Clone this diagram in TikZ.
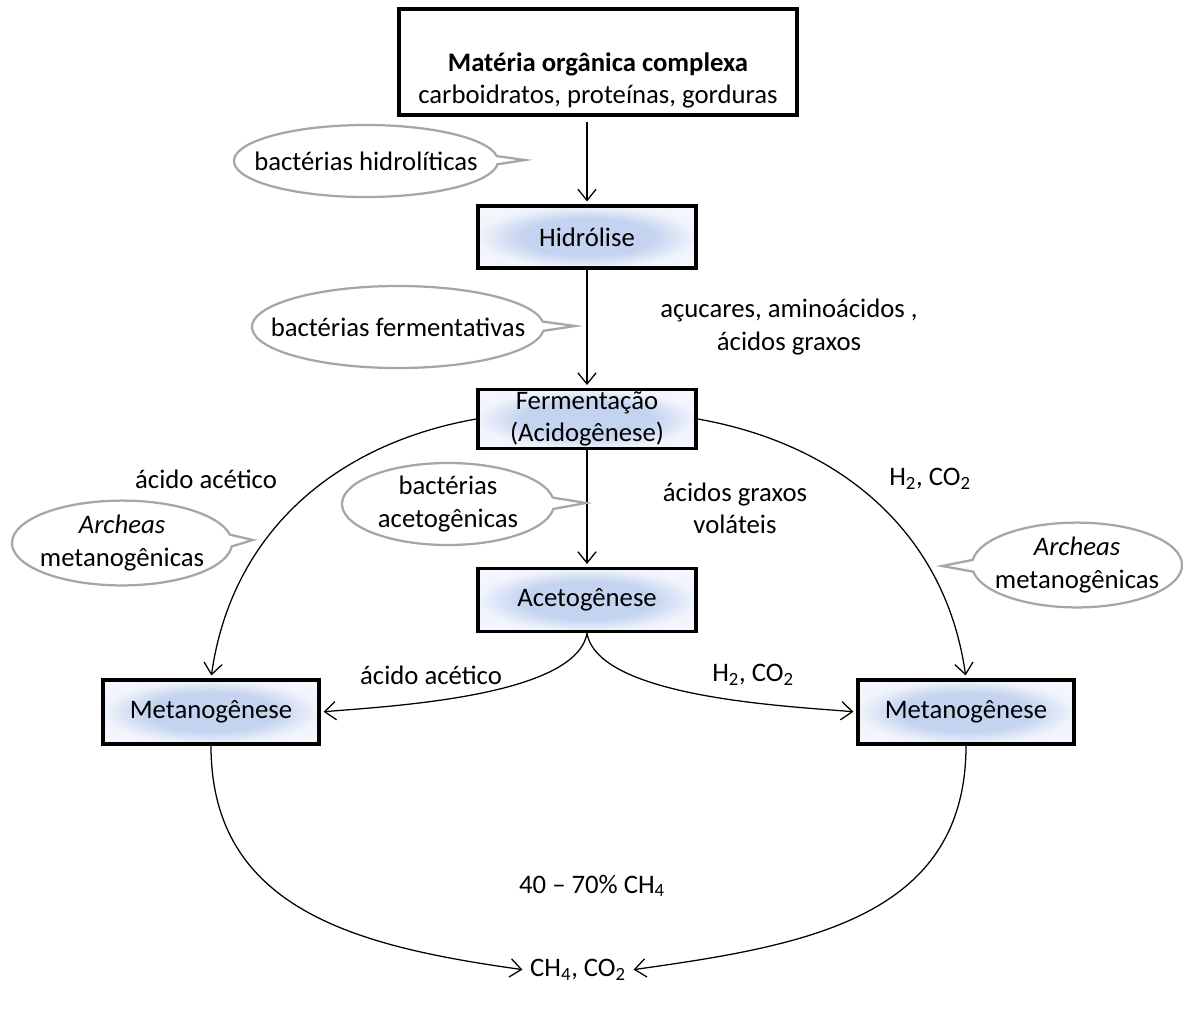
\documentclass[tikz,border=0pt]{standalone}
\usepackage{fontspec}
\setmainfont{Carlito}
\usetikzlibrary{arrows.meta,shapes.callouts}
\definecolor{azulclaro}{RGB}{196,211,240}
\definecolor{cinzabalao}{RGB}{166,166,166}
\pgfdeclareradialshading{brilho}{\pgfpoint{0bp}{0bp}}{color(0bp)=(azulclaro); color(15bp)=(azulclaro); color(25bp)=(white!75!azulclaro); color(50bp)=(white)}
\begin{document}
\begin{tikzpicture}[x=0.025cm,y=0.025cm,font=\fontsize{19}{22.8}\selectfont,>={Straight Barb[length=8pt,width=13pt]},
	etapa/.style={draw=black,line width=2.5pt,shading=brilho,minimum width=5.45cm,minimum height=1.55cm,inner sep=0pt,align=center},
	balao/.style={ellipse callout,draw=cinzabalao,line width=1.6pt,fill=white,inner sep=0pt,callout pointer arc=13},
	seta/.style={->,line width=0.9pt,shorten >=2pt},
	rotulo/.style={align=center}]
	\useasboundingbox (0,0) rectangle (1183,-1015);
	%%Caixas das etapas
	\node[draw=black,line width=2.5pt,minimum width=9.95cm,minimum height=2.65cm] (materia) at (598,-62) {};
	\node[rotulo] (materiatxt) at (598,-80) {\textbf{Matéria orgânica complexa}\\carboidratos, proteínas, gorduras};
	\node[etapa] (hidrolise) at (587,-237) {Hidrólise};
	\node[etapa,minimum height=1.47cm] (ferment) at (587,-419) {Fermentação\\(Acidogênese)};
	\node[etapa,minimum height=1.575cm] (acetog) at (587,-600) {Acetogênese};
	\node[etapa,minimum width=5.4cm,minimum height=1.6cm] (metanoesq) at (211,-712) {Metanogênese};
	\node[etapa,minimum width=5.4cm,minimum height=1.6cm] (metanodir) at (966,-712) {Metanogênese};
	\node (produto) at (578,-970) {CH\textsubscript{4}, CO\textsubscript{2}};
	%%Textos ao lado das setas
	\node[rotulo] (acucares) at (789,-327) {açucares, aminoácidos ,\\ácidos graxos};
	\node (acidoesq) at (206,-479) {ácido acético};
	\node (gasdir) at (930,-479) {H\textsubscript{2}, CO\textsubscript{2}};
	\node[rotulo] (agv) at (735,-508) {ácidos graxos\\voláteis};
	\node (acidomeio) at (431,-675) {ácido acético};
	\node (gasmeio) at (753,-675) {H\textsubscript{2}, CO\textsubscript{2}};
	\node (metano) at (592,-886) {40 – 70\% CH\textsubscript{4}};
	%%Setas
	\draw[seta,shorten <=4pt] (materia.south -| hidrolise.north) -- (hidrolise.north);
	\draw[seta] (hidrolise) -- (ferment);
	\draw[seta] (ferment) -- (acetog);
	\draw[seta] (ferment.west) to[out=190,in=82] (metanoesq.north);
	\draw[seta] (ferment.east) to[out=-10,in=98] (metanodir.north);
	\draw[seta] (acetog.south) to[out=-100,in=5,looseness=0.6] (metanoesq.east);
	\draw[seta] (acetog.south) to[out=-80,in=175,looseness=0.6] (metanodir.west);
	\draw[seta] (metanoesq.south) to[out=-90,in=172,looseness=1.1] (produto.west);
	\draw[seta] (metanodir.south) to[out=-90,in=8,looseness=1.1] (produto.east);
	%%Baloes
	\coordinate (pontahid) at (525,-160);
	\coordinate (pontafer) at (575,-326);
	\coordinate (pontaace) at (586,-503);
	\coordinate (pontaesq) at (253,-540);
	\coordinate (pontadir) at (942,-566);
	\node[balao,minimum width=6.6cm,minimum height=1.8cm,callout absolute pointer={(pontahid)}] (balaohid) at (366,-161) {};
	\node[balao,minimum width=7.3cm,minimum height=2.05cm,callout absolute pointer={(pontafer)}] (balaofer) at (398,-327) {};
	\node[balao,minimum width=5.3cm,minimum height=2.05cm,callout pointer arc=16,callout absolute pointer={(pontaace)}] (balaoace) at (448,-504) {};
	\node[balao,minimum width=5.5cm,minimum height=2.12cm,callout pointer arc=16,callout absolute pointer={(pontaesq)}] (balaoesq) at (122,-543) {};
	\node[balao,minimum width=5.25cm,minimum height=2.12cm,callout pointer arc=16,callout absolute pointer={(pontadir)}] (balaodir) at (1077,-565) {};
	\node (txthid) at (balaohid) {bactérias hidrolíticas};
	\node (txtfer) at (balaofer) {bactérias fermentativas};
	\node[rotulo] (txtace) at (balaoace) {bactérias\\acetogênicas};
	\node[rotulo] (txtesq) at (balaoesq) {\textit{Archeas}\\metanogênicas};
	\node[rotulo] (txtdir) at (balaodir) {\textit{Archeas}\\metanogênicas};
\end{tikzpicture}
\end{document}
